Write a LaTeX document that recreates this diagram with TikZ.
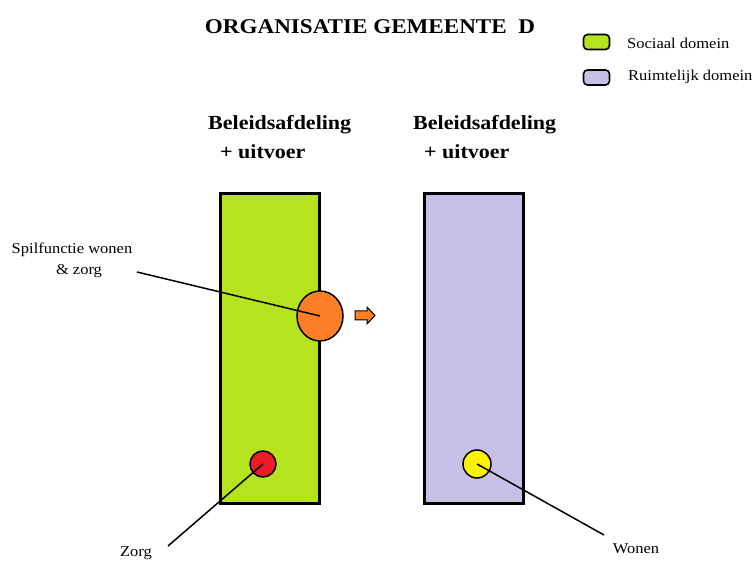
\documentclass[tikz,border=0pt]{standalone}
\usepackage{fontspec}
\setmainfont{Liberation Serif}[FakeStretch=1.1]
\usetikzlibrary{shapes.geometric}
\definecolor{sociaal}{RGB}{181,227,29}
\definecolor{ruimte}{RGB}{200,191,231}
\definecolor{spil}{RGB}{255,127,39}
\definecolor{zorgrood}{RGB}{237,28,36}
\definecolor{wonengeel}{RGB}{255,242,0}
\tikzset{
  bar/.style={draw=black, line width=3pt, minimum width=99pt, minimum height=310pt, inner sep=0pt},
  legendbox/.style={draw=black, line width=1.6pt, rounded corners=4pt, minimum width=26pt, minimum height=15pt, inner sep=0pt},
  dot/.style={draw=black, line width=1.5pt, inner sep=0pt},
  lbl/.style={font=\fontsize{15}{17}\selectfont, inner sep=0pt},
  head/.style={font=\bfseries\fontsize{20}{23}\selectfont, inner sep=0pt, anchor=west},
  pointer/.style={draw=black, line width=1.5pt}
}
\begin{document}
\begin{tikzpicture}[x=1pt, y=-1pt]
\useasboundingbox (0,0) rectangle (756,561);

% title
\node[font=\bfseries\fontsize{21}{25}\selectfont, inner sep=0pt] (title) at (370,27) {ORGANISATIE GEMEENTE\ \ D};

% legend
\node[legendbox, fill=sociaal] (legS) at (596.5,42) {};
\node[lbl, anchor=west] (legStxt) at (627,43) {Sociaal domein};
\node[legendbox, fill=ruimte] (legR) at (596.5,77.5) {};
\node[lbl, anchor=west] (legRtxt) at (628,77) {Ruimtelijk domein};

% column headings
\node[head] (h1a) at (208,125) {Beleidsafdeling};
\node[head] (h1b) at (220,152) {+ uitvoer};
\node[head] (h2a) at (413,125) {Beleidsafdeling};
\node[head] (h2b) at (424,152) {+ uitvoer};

% department bars
\node[bar, fill=sociaal] (soc) at (269.5,349) {};
\node[bar, fill=ruimte] (ruim) at (473.5,349) {};

% circles
\node[dot, ellipse, fill=spil, minimum width=46pt, minimum height=50pt] (spilc) at (320,316) {};
\node[dot, circle, fill=zorgrood, minimum size=26pt] (zorgc) at (263,464) {};
\node[dot, circle, fill=wonengeel, minimum size=28pt] (wonenc) at (477,464) {};

% small block arrow
\path[draw=black, line width=1pt, fill=spil, line join=miter]
  (355,311) -- (367,311) -- (367,307) -- (375,315.5) -- (367,324) -- (367,320) -- (355,320) -- cycle;

% labels
\node[lbl] (spiltxt1) at (72,250) {Spilfunctie wonen};
\node[lbl] (spiltxt2) at (79,271) {\& zorg};
\node[lbl] (zorgtxt) at (136,553) {Zorg};
\node[lbl] (wonentxt) at (636,549) {Wonen};

\coordinate (spilend) at (137,272);
\coordinate (zorgend) at (168,546);
\coordinate (wonenend) at (604,535);

% pointer lines
\draw[pointer] (spilend) -- (spilc.center);
\draw[pointer] (zorgend) -- (zorgc.center);
\draw[pointer] (wonenc.center) -- (wonenend);
\end{tikzpicture}
\end{document}
